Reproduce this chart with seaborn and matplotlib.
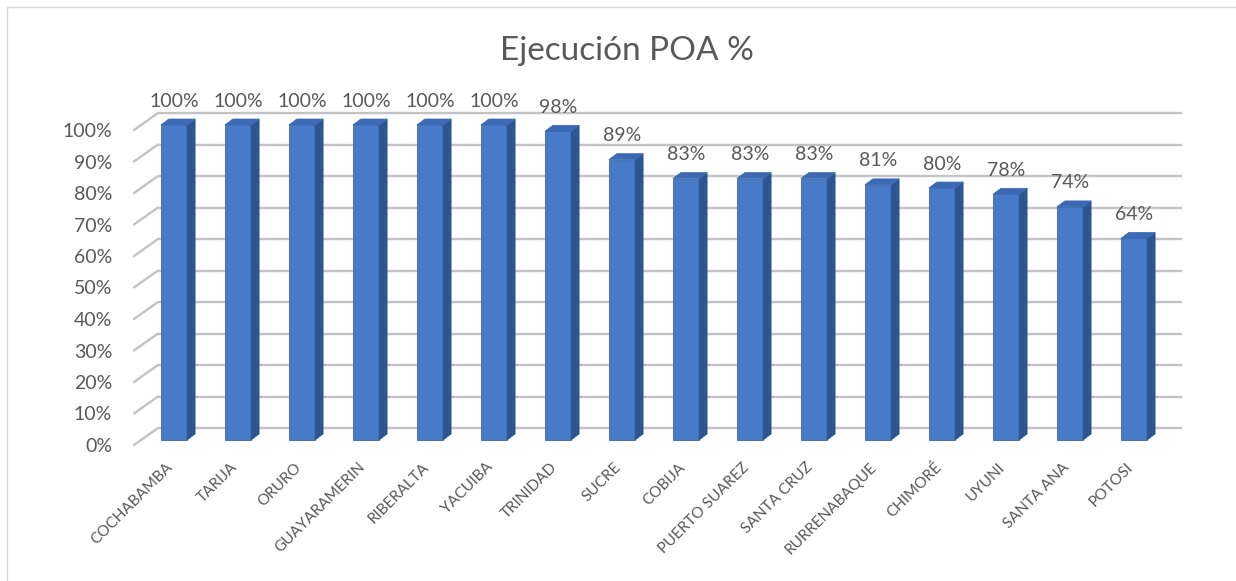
import numpy as np
import matplotlib
matplotlib.use("Agg")
import matplotlib.pyplot as plt
import matplotlib.transforms as mtransforms
import seaborn as sns
from matplotlib.patches import Polygon, Rectangle

# datos
ciudades = ["COCHABAMBA", "TARIJA", "ORURO", "GUAYARAMERIN", "RIBERALTA", "YACUIBA",
            "TRINIDAD", "SUCRE", "COBIJA", "PUERTO SUAREZ", "SANTA CRUZ", "RURRENABAQUE",
            "CHIMORÉ", "UYUNI", "SANTA ANA", "POTOSI"]
ejecucion = [1.00, 1.00, 1.00, 1.00, 1.00, 1.00, 0.98, 0.89, 0.83, 0.83, 0.83, 0.81,
             0.80, 0.78, 0.74, 0.64]
y_ticks = [0.0, 0.1, 0.2, 0.3, 0.4, 0.5, 0.6, 0.7, 0.8, 0.9, 1.0]
y_tick_labels = ["0%", "10%", "20%", "30%", "40%", "50%", "60%", "70%", "80%", "90%", "100%"]
titulo = "Ejecución POA %"

sns.set_theme(style="white")
plt.rcParams["font.family"] = ["Lato", "DejaVu Sans"]
txt = "#595959"
front = "#477AC7"
side = "#2D5592"
top = "#3C69B3"
grid = "#c3c3c3"

W, H = 1236, 581
fig = plt.figure(figsize=(W / 100, H / 100), dpi=100)
ax = fig.add_axes([142 / W, 141 / H, 1024 / W, 315 / H])
ax.set_facecolor("none")

sns.barplot(x=ciudades, y=ejecucion, color=front, saturation=1, width=0.41,
            edgecolor="#3B66AE", linewidth=0.6, ax=ax, zorder=3)
ax.set_xlim(-0.5, len(ciudades) - 0.5)
ax.set_ylim(0, 1)
for s in ax.spines.values():
    s.set_visible(False)

# pixel -> data
p0 = ax.transData.transform((0, 0))
p1 = ax.transData.transform((1, 1))
px_x = p1[0] - p0[0]
px_y = p1[1] - p0[1]

# pared del fondo y lineas diagonales
for v in y_ticks:
    ax.plot([-0.5 + 16 / px_x, len(ciudades) - 0.5 + 16 / px_x], [v + 12 / px_y] * 2,
            color=grid, lw=1.7, zorder=0, clip_on=False, solid_capstyle="butt")
    ax.plot([-0.5 - 8 / px_x, -0.5 + 16 / px_x], [v - 5 / px_y, v + 12 / px_y],
            color=grid, lw=1.7, zorder=0, clip_on=False)

# caras laterales y superiores
dx, dy = 8 / px_x, 6 / px_y
for p in ax.patches:
    x0, w, h = p.get_x(), p.get_width(), p.get_height()
    x1 = x0 + w
    ax.add_patch(Polygon([(x1, 0), (x1 + dx, dy), (x1 + dx, h + dy), (x1, h)],
                         closed=True, facecolor=side, edgecolor=side, lw=0.5,
                         zorder=3, clip_on=False))
    ax.add_patch(Polygon([(x0, h), (x0 + dx, h + dy), (x1 + dx, h + dy), (x1, h)],
                         closed=True, facecolor=top, edgecolor=top, lw=0.5,
                         zorder=3, clip_on=False))
    p.set_clip_on(False)

# etiquetas de datos
for i, v in enumerate(ejecucion):
    ax.annotate(f"{v * 100:.0f}%", (i, v), xytext=(0, 24), textcoords="offset pixels",
                ha="center", va="center", fontsize=14, color=txt)

ax.set_yticks(y_ticks)
ax.set_yticklabels(y_tick_labels)
ax.tick_params(axis="y", length=0, pad=21.5, labelsize=14, labelcolor=txt)
ax.tick_params(axis="x", length=0, pad=14.5, labelsize=11, labelcolor=txt)
for lab in ax.get_yticklabels():
    lab.set_transform(lab.get_transform() + mtransforms.ScaledTranslation(0, -0.05, fig.dpi_scale_trans))
for lab in ax.get_xticklabels():
    lab.set_rotation(45)
    lab.set_ha("right")
    lab.set_va("top")
    lab.set_rotation_mode("anchor")
    lab.set_transform(lab.get_transform() + mtransforms.ScaledTranslation(-0.08, 0, fig.dpi_scale_trans))
ax.set_xlabel("")
ax.set_ylabel("")

fig.text(627 / W, 1 - 51 / H, titulo, ha="center", va="center", fontsize=24, color=txt)

# borde del area del grafico
fig.patches.append(Rectangle((7 / W, -0.1), 1.2, 1.1 - 7 / H, transform=fig.transFigure,
                             fill=False, edgecolor="#d9d9d9", lw=1))

fig.savefig("out.png", dpi=100)
